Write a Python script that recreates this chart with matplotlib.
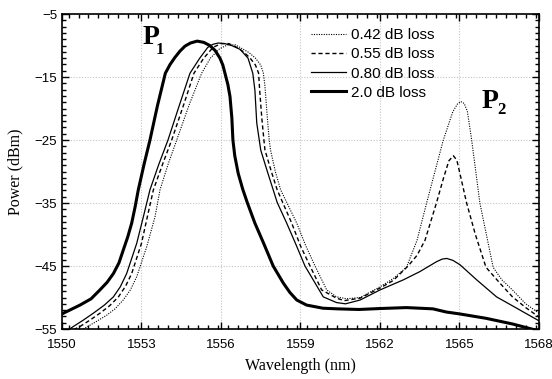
import matplotlib.pyplot as plt
from matplotlib.ticker import MultipleLocator

# curves (wavelength in nm, power in dBm)
x_042 = [1550.3, 1550.93, 1551.3, 1551.69, 1552.0, 1552.31, 1552.58, 1552.82, 1553.2, 1553.51,
         1553.7, 1554.0, 1554.33, 1554.8, 1555.27, 1555.6, 1555.95, 1556.25, 1556.55, 1556.8,
         1557.05, 1557.3, 1557.5, 1557.6, 1557.66, 1557.74, 1557.82, 1557.87, 1558.05, 1558.25,
         1558.86, 1559.2, 1559.55, 1559.99, 1560.36, 1560.74, 1561.25, 1562.0, 1562.5, 1563.0,
         1563.4, 1563.76, 1564.1, 1564.39, 1564.75, 1564.92, 1565.05, 1565.18, 1565.3, 1565.46,
         1565.77, 1566.27, 1566.6, 1567.0, 1567.5, 1568.0]
y_042 = [-56.0, -54.7, -53.8, -52.8, -51.8, -50.4, -48.8, -46.7, -41.9, -37.2,
         -32.9, -28.9, -25.0, -19.4, -14.4, -12.0, -10.5, -9.9, -9.9, -10.5,
         -11.1, -12.0, -13.1, -14.4, -16.5, -21.0, -25.0, -26.6, -30.0, -32.9,
         -38.2, -41.8, -45.0, -48.8, -49.9, -50.2, -50.0, -48.3, -47.0, -45.2,
         -40.9, -35.0, -29.6, -25.0, -20.5, -19.3, -18.9, -19.2, -20.5, -25.0,
         -35.0, -45.2, -47.2, -48.8, -51.0, -52.5]

x_055 = [1550.2, 1550.68, 1551.05, 1551.43, 1551.8, 1552.13, 1552.4, 1552.63, 1553.0, 1553.22,
         1553.45, 1553.8, 1554.14, 1554.6, 1554.98, 1555.35, 1555.7, 1556.0, 1556.3, 1556.6,
         1556.85, 1557.1, 1557.3, 1557.42, 1557.46, 1557.54, 1557.62, 1557.66, 1557.9, 1558.12,
         1558.67, 1559.0, 1559.36, 1559.8, 1560.36, 1560.65, 1561.25, 1562.0, 1562.5, 1563.06,
         1563.4, 1563.7, 1564.13, 1564.4, 1564.6, 1564.77, 1564.9, 1565.0, 1565.27, 1565.6,
         1566.0, 1566.5, 1567.0, 1567.5, 1568.0]
y_055 = [-55.6, -54.6, -53.6, -52.5, -51.3, -49.9, -48.2, -46.2, -41.4, -37.2,
         -32.9, -28.8, -25.0, -19.3, -14.4, -12.0, -10.3, -9.7, -9.7, -10.3,
         -11.0, -12.0, -13.1, -14.4, -17.1, -21.5, -25.0, -26.6, -30.0, -32.9,
         -38.2, -41.8, -45.0, -48.8, -50.1, -50.5, -50.1, -48.5, -47.3, -45.0,
         -43.3, -40.9, -35.0, -31.0, -28.3, -27.5, -28.2, -30.0, -35.0, -40.0,
         -45.2, -47.6, -49.9, -51.6, -53.1]

x_080 = [1550.0, 1550.43, 1550.8, 1551.18, 1551.6, 1551.94, 1552.2, 1552.44, 1552.82, 1553.07,
         1553.32, 1553.65, 1554.0, 1554.42, 1554.83, 1555.2, 1555.5, 1555.7, 1555.9, 1556.15,
         1556.4, 1556.72, 1557.02, 1557.2, 1557.28, 1557.35, 1557.5, 1557.75, 1557.97, 1558.12,
         1558.48, 1558.8, 1559.17, 1559.55, 1559.86, 1560.36, 1560.7, 1561.25, 1562.0, 1562.88,
         1563.5, 1564.14, 1564.35, 1564.52, 1564.75, 1565.02, 1565.65, 1566.4, 1567.16, 1568.0]
y_080 = [-55.8, -54.6, -53.6, -52.5, -51.2, -49.9, -48.3, -46.2, -41.4, -37.2,
         -32.9, -28.9, -25.0, -19.6, -14.4, -12.0, -10.3, -9.8, -9.6, -9.7,
         -10.0, -10.6, -12.0, -14.4, -17.1, -22.3, -26.6, -30.0, -32.9, -34.9,
         -38.2, -41.3, -45.0, -47.7, -49.9, -50.8, -51.0, -50.4, -48.8, -47.2,
         -45.9, -44.3, -43.9, -43.8, -44.1, -44.8, -47.2, -49.9, -51.7, -53.7]

x_20 = [1550.0, 1550.68, 1551.1, 1551.43, 1551.7, 1551.94, 1552.15, 1552.31, 1552.48, 1552.63,
        1552.76, 1552.88, 1553.1, 1553.32, 1553.6, 1553.9, 1554.08, 1554.26, 1554.45, 1554.64,
        1554.85, 1555.1, 1555.35, 1555.58, 1555.78, 1555.96, 1556.07, 1556.15, 1556.26, 1556.34,
        1556.41, 1556.45, 1556.52, 1556.65, 1556.82, 1556.99, 1557.28, 1557.6, 1557.97, 1558.35,
        1558.6, 1558.86, 1559.23, 1559.85, 1560.4, 1561.2, 1562.0, 1563.0, 1564.0, 1564.5,
        1565.0, 1566.0, 1567.0, 1568.0]
y_20 = [-52.6, -51.2, -50.2, -48.8, -47.6, -46.2, -44.5, -42.5, -40.4, -38.2,
        -35.6, -32.9, -28.8, -25.0, -19.6, -14.4, -13.0, -11.9, -10.9, -10.1,
        -9.6, -9.3, -9.5, -10.0, -10.8, -12.0, -13.1, -14.4, -16.2, -18.1,
        -21.5, -25.0, -27.5, -30.3, -32.8, -34.9, -38.2, -41.3, -45.0, -47.7,
        -49.2, -50.4, -51.2, -51.7, -51.8, -51.9, -51.75, -51.6, -51.8, -52.3,
        -52.6, -53.3, -54.2, -55.3]

labels = ["0.42 dB loss", "0.55 dB loss", "0.80 dB loss", "2.0 dB loss"]
x_ticks = [1550, 1553, 1556, 1559, 1562, 1565, 1568]
y_ticks = [-55, -45, -35, -25, -15, -5]

sans = "Liberation Sans"
serif = "Liberation Serif"

fig = plt.figure(figsize=(5.52, 3.79), dpi=100)
ax = fig.add_axes([0.1123, 0.1319, 0.8641, 0.8311])

ax.plot(x_042, y_042, color="black", lw=0.8, ls=(0, (1, 1.2)), label=labels[0])
ax.plot(x_055, y_055, color="black", lw=1.0, ls=(0, (3, 2)), label=labels[1])
ax.plot(x_080, y_080, color="black", lw=0.9, ls="-", label=labels[2])
ax.plot(x_20, y_20, color="black", lw=2.2, ls="-", label=labels[3])

ax.set_xlim(1550, 1568)
ax.set_ylim(-55, -5)
ax.set_xticks(x_ticks)
ax.set_yticks(y_ticks)
ax.xaxis.set_minor_locator(MultipleLocator(0.375))
ax.yaxis.set_minor_locator(MultipleLocator(1))
ax.tick_params(which="both", direction="in", top=True, right=True, width=1.0)
ax.tick_params(which="major", length=5)
ax.tick_params(which="minor", length=3)
ax.tick_params(axis="x", pad=7)
ax.tick_params(labeltop=False, labelright=False)
for lab in ax.get_xticklabels() + ax.get_yticklabels():
    lab.set_fontfamily(sans)
    lab.set_fontsize(9.5)
for s in ax.spines.values():
    s.set_linewidth(1.2)

ax.grid(True, which="major", color="#c4c4c4", ls=(0, (1, 1.5)), lw=0.8)
ax.set_axisbelow(True)

ax.set_xlabel("Wavelength (nm)", family=serif, fontsize=11.5, labelpad=5)
ax.set_ylabel("Power (dBm)", family=serif, fontsize=11.5, labelpad=8)

leg = ax.legend(loc="upper left", bbox_to_anchor=(0.522, 0.955), frameon=False,
                prop={"family": sans, "size": 11}, handlelength=2.3,
                handletextpad=0.3, labelspacing=0.34, borderpad=0, borderaxespad=0)

ax.text(1553.05, -9.76, "P", family=serif, fontweight="bold", fontsize=20)
ax.text(1553.55, -11.3, "1", family=serif, fontweight="bold", fontsize=12)
ax.text(1565.85, -19.9, "P", family=serif, fontweight="bold", fontsize=20)
ax.text(1566.42, -20.8, "2", family=serif, fontweight="bold", fontsize=12)

fig.savefig("out.png", dpi=100)
